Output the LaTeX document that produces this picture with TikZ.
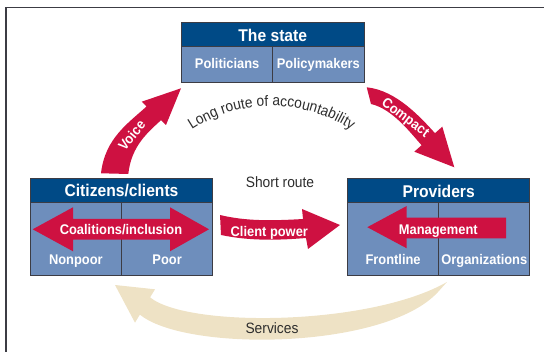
\documentclass[tikz,border=0pt]{standalone}
\usepackage{fontspec}
\setmainfont{Liberation Sans}[FakeStretch=0.92]
\usepackage{xcolor}
\usepackage{tikz}
\usetikzlibrary{positioning,decorations.text}

\definecolor{hdrblue}{RGB}{0,74,134}
\definecolor{cellblue}{RGB}{110,142,188}
\definecolor{arrowred}{RGB}{206,17,65}
\definecolor{servbeige}{RGB}{238,226,197}
\definecolor{edgegray}{RGB}{60,60,68}
\definecolor{routegray}{RGB}{45,45,45}

\newcommand{\hdrfont}{\bfseries\fontsize{17}{20}\selectfont}
\newcommand{\lblfont}{\bfseries\fontsize{14}{16}\selectfont}
\newcommand{\routefont}{\fontsize{15}{18}\selectfont}

\begin{document}
\begin{tikzpicture}[x=1pt, y=1pt,
        head/.style={rectangle, draw=edgegray, line width=1pt, fill=hdrblue,
        text=white, font=\hdrfont, minimum width=182.5pt, minimum height=24pt,
        inner sep=0pt, outer sep=0pt},
        cell/.style={rectangle, draw=edgegray, line width=1pt, fill=cellblue,
        text=white, font=\lblfont, minimum width=91.25pt, minimum height=36pt,
        inner sep=0pt, outer sep=0pt, text height=10pt, text depth=3pt},
        tallcell/.style={cell, minimum height=73pt},
        lbl/.style={text=white, font=\lblfont, inner sep=0pt, anchor=base},
        blockarrow/.style={fill=arrowred},
        route/.style={text=routegray, font=\routefont, inner sep=0pt}]

        \useasboundingbox (0,0) rectangle (544,352);
        \draw[edgegray, line width=1.5pt] (6,0) -- (6,344.5) -- (544,344.5);

        \fill[servbeige] (115,67) -- (155,62.7) -- (150.1,54.6)
            .. controls (188,24) and (370,26) .. (447,70) -- (438,60)
            .. controls (385,2) and (185,0) .. (139.9,37.4) -- (135,29.3) -- cycle;
        \node[route] (services) at (272,24) {Services};

        \node[head] (state) at (272.75,317) {The state};
        \node[cell, anchor=north west] (politicians) at (state.south west) {Politicians};
        \node[cell, anchor=north east] (policymakers) at (state.south east) {Policymakers};

        \node[head] (citizens) at (121.5,161) {Citizens/clients};
        \node[tallcell, anchor=north west] (nonpoor) at (citizens.south west) {};
        \node[tallcell, anchor=north east] (poor) at (citizens.south east) {};
        \node[lbl] (nonpoorlbl) at ([yshift=11.5pt]nonpoor.south) {Nonpoor};
        \node[lbl] (poorlbl) at ([yshift=11.5pt]poor.south) {Poor};

        \node[head] (providers) at (438.7,161) {Providers};
        \node[tallcell, anchor=north west] (frontline) at (providers.south west) {};
        \node[tallcell, anchor=north east] (organizations) at (providers.south east) {};
        \node[lbl] (frontlinelbl) at ([yshift=11.5pt]frontline.south) {Frontline};
        \node[lbl] (organizationslbl) at ([yshift=11.5pt]organizations.south) {Organizations};

        \fill[blockarrow] (32.7,122.7) -- (73,144.7) -- (73,133) -- (170,133)
            -- (170,144.7) -- (209,122.7) -- (170,100.7) -- (170,112.4)
            -- (73,112.4) -- (73,100.7) -- cycle;
        \node[lbl] (coalitions) at (121,117.7) {Coalitions/inclusion};

        \fill[blockarrow] (367.3,124.8) -- (406.7,146) -- (406.7,134.3) -- (506,134.3)
            -- (506,113.7) -- (406.7,113.7) -- (406.7,103.7) -- cycle;
        \node[lbl] (management) at (438.3,117.7) {Management};

        \fill[blockarrow] (220,137) .. controls (245,131) and (270,131) .. (303,133)
            -- (302,143) -- (340,127) -- (308,103) -- (306,114)
            .. controls (270,111) and (245,112) .. (221,117) -- cycle;
        \node[lbl] (clientpower) at (269.3,115.3) {Client power};

        \fill[blockarrow] (101,178.7) .. controls (105,213.7) and (128.2,228.7) .. (146.6,245.6)
            -- (141.7,250.3) -- (181,263.7) -- (166,227) -- (161,231.8)
            .. controls (147.8,219.6) and (131.3,206) .. (128.3,178) -- cycle;
        \node[lbl, anchor=center, rotate=50] (voice) at (131.7,217) {Voice};

        \fill[blockarrow] (366.7,264.7) .. controls (396.7,261.7) and (421.4,233.6) .. (435,218.8)
            -- (442.3,225.3) -- (454.3,184.7) -- (414.3,200.3) -- (421.6,206.8)
            .. controls (411.4,217.9) and (393,243) .. (371,248) -- cycle;
        \node[lbl, anchor=center, rotate=-37] (compact) at (405,233.7) {Compact};

        \node[route] (short) at (280,170) {Short route};
        \path[decorate, decoration={text along path, text align=center,
            text color=routegray, text={|\routefont|Long route of accountability}}]
            ([shift={(124.7:145)}]271.5,101) arc[start angle=124.7, end angle=55.3, radius=145pt];
    \end{tikzpicture}
\end{document}
